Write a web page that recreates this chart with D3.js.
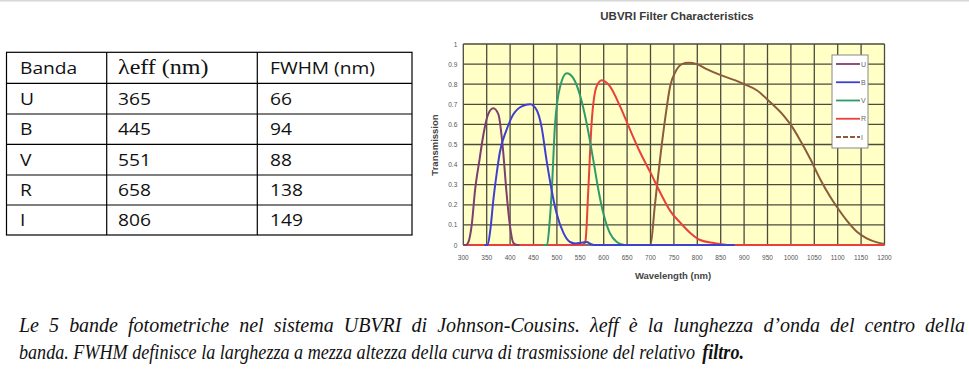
<!DOCTYPE html>
<html><head><meta charset="utf-8">
<script src="https://cdn.jsdelivr.net/npm/d3@7"></script>
<style>body{margin:0;background:#fff;overflow:hidden}</style></head>
<body><svg id="c" width="969" height="370"></svg>
<script>
// ---------- data ----------
const bands = ["U","B","V","R","I"];
const lambdaEff = [365,445,551,658,806];
const fwhm = [66,94,88,138,149];
const tableHeader = ["Banda","λeff (nm)","FWHM (nm)"];
const xTickLabels = [300,350,400,450,500,550,600,650,700,750,800,850,900,950,1000,1050,1100,1150,1200];
const yTickLabels = [0,0.1,0.2,0.3,0.4,0.5,0.6,0.7,0.8,0.9,1];
const chartTitle = "UBVRI Filter Characteristics";
const xTitle = "Wavelength (nm)";
const yTitle = "Transmission";
const captionLines = [
  "Le 5 bande fotometriche nel sistema UBVRI di Johnson-Cousins. λeff è la lunghezza d’onda del centro della",
  "banda. FWHM definisce  la larghezza a mezza altezza della curva di trasmissione del relativo"
];
const captionEnd = "filtro.";
// transmission curves [wavelength nm, transmission]
const curveU = [[300,0],[305,0],[310,0.01],[318,0.1],[325,0.27],[335,0.43],[343,0.55],[353,0.65],[364,0.68],[375,0.65],[385,0.47],[392,0.27],[400,0.09],[407,0.01],[415,0],[420,0]];
const curveB = [[345,0],[352,0],[358,0.08],[364,0.22],[371,0.35],[378,0.46],[392,0.57],[407,0.65],[425,0.69],[443,0.70],[457,0.67],[467,0.59],[478,0.42],[489,0.27],[499,0.16],[514,0.06],[528,0.015],[540,0.008],[550,0.01],[564,0.015],[572,0.005],[580,0],[880,0]];
const curveV = [[470,0],[479,0],[484,0.1],[489,0.27],[496,0.6],[507,0.79],[521,0.855],[535,0.83],[550,0.74],[564,0.6],[578,0.42],[589,0.27],[600,0.15],[613,0.06],[628,0.015],[645,0],[660,0]];
const curveR = [[300,0],[555,0],[561,0.02],[567,0.27],[574,0.6],[585,0.79],[596,0.82],[605,0.81],[613,0.79],[635,0.69],[657,0.57],[678,0.46],[700,0.36],[721,0.26],[742,0.17],[764,0.11],[785,0.06],[806,0.025],[835,0.01],[870,0],[1200,0]];
const curveI = [[690,0],[700,0],[709,0.19],[721,0.44],[732,0.64],[742,0.79],[753,0.86],[767,0.90],[781,0.907],[799,0.90],[820,0.875],[850,0.845],[880,0.82],[900,0.80],[927,0.77],[956,0.71],[984,0.645],[1002,0.59],[1020,0.52],[1041,0.43],[1062,0.33],[1084,0.24],[1098,0.19],[1120,0.12],[1141,0.066],[1162,0.033],[1184,0.013],[1200,0.005]];

const colors = {U:"#7d3f6e",B:"#4040d0",V:"#2f9a6a",R:"#e8403a",I:"#8c5a3c"};
const curves = {U:curveU,B:curveB,V:curveV,R:curveR,I:curveI};
const drawOrder = ["I","R","V","U","B"];

// ---------- drawing ----------
const svg = d3.select("#c");
svg.append("rect").attr("x",0).attr("y",0).attr("width",969).attr("height",1.5).attr("fill","#d6d6d6");

// table
const tbl = svg.append("g");
const colX = [6.5,106.7,257.3,412];
const rowY = [52.3,83.3,114,144.3,175,205,235];
const tableRows = [tableHeader].concat(bands.map((b,i)=>[b,String(lambdaEff[i]),String(fwhm[i])]));
tbl.append("rect").attr("x",colX[0]).attr("y",rowY[0]).attr("width",colX[3]-colX[0]).attr("height",rowY[6]-rowY[0])
  .attr("fill","none").attr("stroke","#000").attr("stroke-width",1.2);
rowY.slice(1,-1).forEach(y=>tbl.append("line").attr("x1",colX[0]).attr("x2",colX[3]).attr("y1",y).attr("y2",y).attr("stroke","#000").attr("stroke-width",1.2));
colX.slice(1,-1).forEach(x=>tbl.append("line").attr("x1",x).attr("x2",x).attr("y1",rowY[0]).attr("y2",rowY[6]).attr("stroke","#000").attr("stroke-width",1.2));
const textX = [20,118,270];
tableRows.forEach((row,r)=>{
  row.forEach((t,c)=>{
    const serif = (r===0 && c===1);
    const el = tbl.append("text").attr("x",textX[c]).attr("y",(rowY[r]+rowY[r+1])/2+6.3)
      .attr("font-family", serif ? "Liberation Serif" : "Open Sans")
      .attr("font-size", serif ? 20 : 17).attr("fill","#111").text(t);
    const w = el.node().getComputedTextLength();
    el.attr("textLength", w*(serif?1.2:1.13)).attr("lengthAdjust","spacingAndGlyphs");
  });
});

// chart
const x = d3.scaleLinear().domain([300,1200]).range([463.3,884.5]);
const y = d3.scaleLinear().domain([0,1]).range([245,44]);
const ch = svg.append("g");
ch.append("rect").attr("x",x(300)).attr("y",y(1)).attr("width",x(1200)-x(300)).attr("height",y(0)-y(1)).attr("fill","#ffffc6");
ch.append("g").selectAll("line").data(xTickLabels).join("line")
  .attr("x1",d=>x(d)).attr("x2",d=>x(d)).attr("y1",y(0)).attr("y2",y(1)).attr("stroke","#4b4b3c").attr("stroke-width",1.3);
ch.append("g").selectAll("line").data(yTickLabels).join("line")
  .attr("x1",x(300)).attr("x2",x(1200)).attr("y1",d=>y(d)).attr("y2",d=>y(d)).attr("stroke","#4b4b3c").attr("stroke-width",1.3);
ch.append("g").selectAll("text").data(xTickLabels).join("text")
  .attr("x",d=>x(d)).attr("y",y(0)+15).attr("text-anchor","middle").attr("font-family","Liberation Sans")
  .attr("font-size",6.5).attr("fill","#555").text(d=>d);
ch.append("g").selectAll("text").data(yTickLabels).join("text")
  .attr("x",x(300)-6).attr("y",d=>y(d)+2.5).attr("text-anchor","end").attr("font-family","Liberation Sans")
  .attr("font-size",6.5).attr("fill","#555").text(d=>d);
ch.append("text").attr("x",677).attr("y",20).attr("text-anchor","middle").attr("font-family","Liberation Sans")
  .attr("font-weight","bold").attr("font-size",11.5).attr("fill","#3a3a3a").text(chartTitle);
ch.append("text").attr("x",673).attr("y",279).attr("text-anchor","middle").attr("font-family","Liberation Sans")
  .attr("font-weight","bold").attr("font-size",9.5).attr("fill","#444").text(xTitle);
ch.append("text").attr("transform","translate(438,145) rotate(-90)").attr("text-anchor","middle").attr("font-family","Liberation Sans")
  .attr("font-weight","bold").attr("font-size",9.5).attr("fill","#444").text(yTitle);

const line = d3.line().x(d=>x(d[0])).y(d=>y(d[1])).curve(d3.curveMonotoneX);
drawOrder.forEach(k=>{
  ch.append("path").attr("d",line(curves[k])).attr("fill","none").attr("stroke",colors[k]).attr("stroke-width",2);
});

// legend
const lg = ch.append("g");
lg.append("rect").attr("x",832).attr("y",55).attr("width",36).attr("height",93).attr("fill","#fff").attr("stroke","#888").attr("stroke-width",1);
const ly = d3.scalePoint().domain(bands).range([64,137]);
bands.forEach(b=>{
  lg.append("line").attr("x1",836).attr("x2",860).attr("y1",ly(b)).attr("y2",ly(b)).attr("stroke",colors[b]).attr("stroke-width",1.8)
    .attr("stroke-dasharray", b==="I" ? "5,2" : null);
  lg.append("text").attr("x",861).attr("y",ly(b)+2.5).attr("font-family","Liberation Sans").attr("font-size",7).attr("fill","#666").text(b);
});

// caption
const cap = svg.append("g");
const capText = (tx, ty, str, bold) => cap.append("text").attr("x",tx).attr("y",ty)
  .attr("font-family","Liberation Serif").attr("font-style","italic").attr("font-weight", bold ? "bold" : null)
  .attr("font-size",21).attr("fill","#111").text(str);
// line 2 (last line, not justified)
const l2 = capText(19, 359, captionLines[1], false);
const n2 = l2.node().getComputedTextLength();
const l3 = capText(0, 359, captionEnd, true);
const n3 = l3.node().getComputedTextLength();
const sp = 21*0.25;
const comp = 725 / (n2 + sp*1.6 + n3);
l2.attr("textLength", n2*comp).attr("lengthAdjust","spacingAndGlyphs");
l3.attr("x", 19 + (n2 + sp*1.6)*comp).attr("textLength", n3*comp).attr("lengthAdjust","spacingAndGlyphs");
// line 1, justified between 19 and 965
const words = captionLines[0].split(" ");
const wEls = words.map(w => capText(0, 332, w, false));
const wN = wEls.map(e => e.node().getComputedTextLength());
const fullN = d3.sum(wN) + sp*(words.length-1);
const comp1 = (comp + 946/fullN) / 2;
const wW = wN.map(v => v*comp1);
const gap = (946 - d3.sum(wW)) / (words.length - 1);
let cx = 19;
wEls.forEach((e,i) => { e.attr("x", cx).attr("textLength", wW[i]).attr("lengthAdjust","spacingAndGlyphs"); cx += wW[i] + gap; });
</script></body></html>
